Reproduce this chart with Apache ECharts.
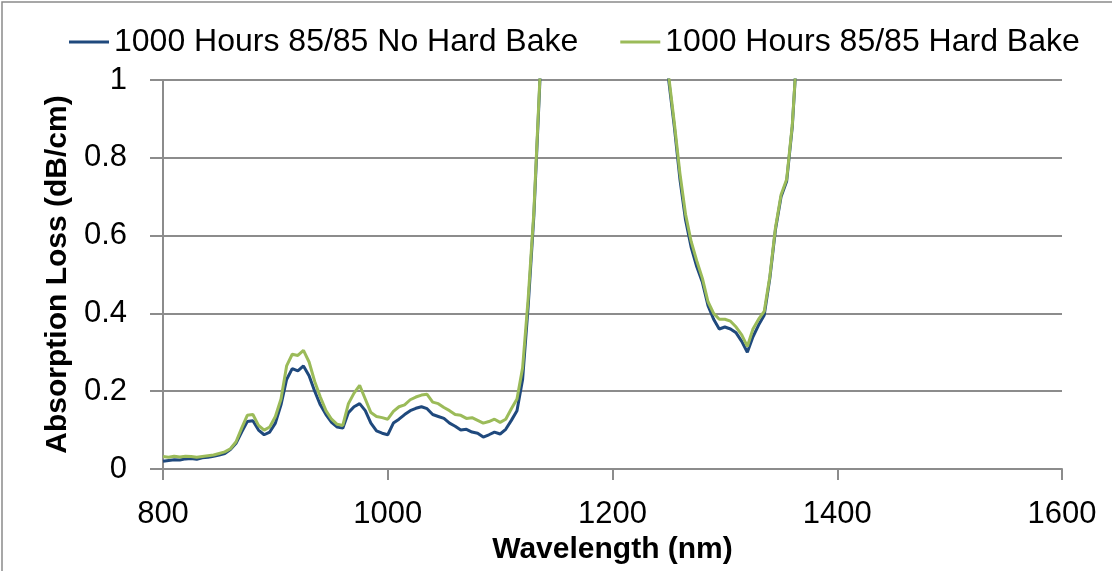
<!DOCTYPE html>
<html>
<head>
<meta charset="utf-8">
<script src="https://cdn.jsdelivr.net/npm/echarts@6/dist/echarts.min.js"></script>
<style>
html,body{margin:0;padding:0;background:#fff;}
#chart{width:1112px;height:571px;}
</style>
</head>
<body>
<div id="chart"></div>
<script>
const wavelengths = [800,805,810,815,820,825,830,835,840,845,850,855,860,865,870,875,880,885,890,895,900,905,910,915,920,925,930,935,940,945,950,955,960,965,970,975,980,985,990,995,1000,1005,1010,1015,1020,1025,1030,1035,1040,1045,1050,1055,1060,1065,1070,1075,1080,1085,1090,1095,1100,1105,1110,1115,1120,1125,1130,1135,1140,1145,1150,1160,1170,1180,1190,1200,1210,1220,1230,1240,1245,1250,1255,1260,1265,1270,1275,1280,1285,1290,1295,1300,1305,1310,1315,1320,1325,1330,1335,1340,1345,1350,1355,1360,1365];
const noHardBake = [0.020,0.022,0.024,0.023,0.026,0.027,0.025,0.029,0.030,0.033,0.036,0.040,0.050,0.066,0.095,0.122,0.124,0.100,0.088,0.095,0.118,0.165,0.230,0.258,0.252,0.265,0.240,0.200,0.165,0.140,0.120,0.108,0.105,0.145,0.160,0.168,0.150,0.118,0.098,0.092,0.088,0.118,0.128,0.140,0.150,0.156,0.160,0.155,0.140,0.135,0.130,0.118,0.110,0.100,0.102,0.095,0.092,0.082,0.088,0.095,0.090,0.102,0.125,0.150,0.230,0.420,0.650,0.970,1.35,1.7,2.1,2.6,3.0,3.2,3.3,3.2,3.0,2.5,1.9,1.4,1.15,1.0,0.880,0.745,0.640,0.570,0.520,0.480,0.420,0.385,0.360,0.365,0.360,0.350,0.328,0.300,0.340,0.370,0.395,0.490,0.615,0.700,0.740,0.880,1.12];
const hardBake = [0.032,0.030,0.033,0.031,0.033,0.032,0.030,0.032,0.034,0.036,0.040,0.044,0.052,0.070,0.105,0.138,0.140,0.112,0.100,0.108,0.135,0.180,0.265,0.295,0.292,0.305,0.275,0.225,0.185,0.150,0.128,0.115,0.112,0.168,0.195,0.215,0.180,0.145,0.135,0.132,0.128,0.148,0.160,0.165,0.178,0.185,0.190,0.192,0.172,0.168,0.158,0.150,0.140,0.138,0.130,0.132,0.125,0.118,0.122,0.128,0.120,0.128,0.155,0.180,0.260,0.440,0.660,0.980,1.35,1.7,2.1,2.6,3.0,3.2,3.3,3.2,3.0,2.5,1.9,1.4,1.15,1.01,0.890,0.760,0.655,0.585,0.535,0.490,0.430,0.400,0.385,0.385,0.380,0.365,0.345,0.315,0.360,0.385,0.405,0.495,0.620,0.705,0.745,0.885,1.12];
const seriesNames = ['1000 Hours 85/85 No Hard Bake','1000 Hours 85/85 Hard Bake'];
const xTicks = [800,1000,1200,1400,1600];
const yTicks = [0,0.2,0.4,0.6,0.8,1];

const FONT = '"Liberation Sans", Arial, sans-serif';
const pairs = arr => wavelengths.map((w,i)=>[w,arr[i]]);
const chart = echarts.init(document.getElementById('chart'), null, {renderer:'canvas'});
chart.setOption({
  animation:false,
  backgroundColor:'#fff',
  graphic:[{type:'rect',shape:{x:2,y:2,width:1300,height:800},style:{fill:'none',stroke:'#8a8a8a',lineWidth:1.5},silent:true}],
  legend:{
    left:64, top:21, itemWidth:40, itemHeight:3, itemGap:42, icon:'rect',
    textStyle:{fontFamily:FONT,fontSize:32,color:'#000'},
    data:seriesNames
  },
  grid:{left:163,right:50,top:80,bottom:102,containLabel:false},
  xAxis:{
    type:'value', min:800, max:1600, interval:200,
    name:'Wavelength (nm)', nameLocation:'middle', nameGap:62,
    nameTextStyle:{fontFamily:FONT,fontSize:30,fontWeight:'bold',color:'#000'},
    axisLine:{show:true,lineStyle:{color:'#8c8c8c',width:2}},
    axisTick:{show:true,inside:false,length:11,lineStyle:{color:'#8c8c8c',width:2}},
    axisLabel:{fontFamily:FONT,fontSize:31,color:'#000',margin:30,
      formatter:v=>xTicks.includes(v)?String(v):''},
    splitLine:{show:false}
  },
  yAxis:{
    type:'value', min:0, max:1, interval:0.2,
    name:'Absorption Loss (dB/cm)', nameLocation:'middle', nameGap:90, nameRotate:90,
    nameTextStyle:{fontFamily:FONT,fontSize:30,fontWeight:'bold',color:'#000'},
    axisLine:{show:true,lineStyle:{color:'#8c8c8c',width:2}},
    axisTick:{show:true,inside:false,length:13,lineStyle:{color:'#8c8c8c',width:2}},
    axisLabel:{fontFamily:FONT,fontSize:31,color:'#000',margin:36,
      formatter:v=>{const t=yTicks.find(x=>Math.abs(x-v)<1e-9);return t===undefined?'':String(+t.toFixed(1));}},
    splitLine:{show:true,lineStyle:{color:'#8c8c8c',width:2}}
  },
  series:[
    {name:seriesNames[0],type:'line',data:pairs(noHardBake),showSymbol:false,symbol:'none',clip:true,
     lineStyle:{color:'#1F497D',width:3},itemStyle:{color:'#1F497D'},z:2},
    {name:seriesNames[1],type:'line',data:pairs(hardBake),showSymbol:false,symbol:'none',clip:true,
     lineStyle:{color:'#9BBB59',width:3},itemStyle:{color:'#9BBB59'},z:3}
  ]
});
</script>
</body>
</html>
